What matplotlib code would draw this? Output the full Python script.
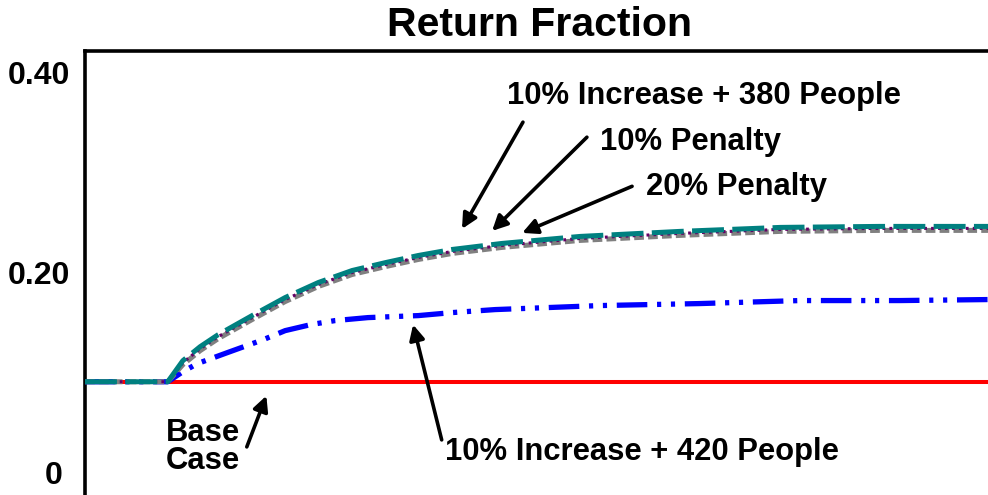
import matplotlib
matplotlib.use("Agg")
import matplotlib.pyplot as plt
from matplotlib.transforms import ScaledTranslation

plt.rcParams['font.family'] = ['Liberation Sans', 'DejaVu Sans']
plt.rcParams['lines.scale_dashes'] = False

# Data
times = [0, 11, 13.0, 15.3, 17.7, 22.2, 26.6, 31, 35.5, 40, 44.3, 48.8, 55.4, 65.8, 79, 92.4, 105.6, 120]
inc380 = [0.091, 0.091, 0.112, 0.126, 0.138, 0.157, 0.175, 0.190, 0.202, 0.210, 0.217, 0.223, 0.229, 0.236, 0.241, 0.245, 0.246, 0.246]
pen10 = [0.091, 0.091, 0.110, 0.124, 0.136, 0.155, 0.173, 0.188, 0.200, 0.208, 0.215, 0.221, 0.227, 0.234, 0.239, 0.243, 0.244, 0.244]
pen20 = [0.091, 0.091, 0.108, 0.122, 0.134, 0.153, 0.171, 0.186, 0.198, 0.206, 0.213, 0.219, 0.225, 0.232, 0.237, 0.241, 0.242, 0.242]

blue_t = [0, 11.0, 13.0, 14.9, 18.9, 23.7, 26.6, 30.0, 33.2, 37.6, 44.3, 48.8, 54.5, 68.4, 81.7, 95.0, 108.3, 120]
inc420 = [0.091, 0.091, 0.101, 0.109, 0.120, 0.133, 0.142, 0.148, 0.152, 0.155, 0.157, 0.160, 0.163, 0.167, 0.169, 0.172, 0.172, 0.173]

base_t = [0, 120]
base = [0.091, 0.091]

yticks = [0, 0.2, 0.4]
yticklabels = ["0", "0.20", "0.40"]

fig = plt.figure(figsize=(9.88, 4.95), dpi=100)
ax = fig.add_axes([85/988, 0, 1 - 85/988, 1 - 51/495])

ax.plot(base_t, base, color='#FF0000', lw=2.9, solid_capstyle='butt', zorder=2)
ax.plot(blue_t, inc420, color='#0000FF', lw=3.8, dashes=(22, 7, 3, 7, 3, 7), zorder=3)
ax.plot(times, pen20, color='#808080', lw=3.6, dashes=(7, 3), zorder=4)
ax.plot(times, pen10, color='#660066', lw=2.2, dashes=(2, 3), zorder=5)
ax.plot(times, inc380, color='#008080', lw=3.6, dashes=(23, 6), zorder=6)

ax.set_xlim(0, 120)
ax.set_ylim(-0.022, 0.421)
ax.set_yticks(yticks)
ax.set_yticklabels(yticklabels, fontsize=23, fontweight='bold')
ax.set_xticks([])
ax.tick_params(axis='y', length=0, pad=11)
zero_lbl = ax.get_yticklabels()[0]
zero_lbl.set_transform(zero_lbl.get_transform() + ScaledTranslation(-7/100, 0, fig.dpi_scale_trans))
for s in ['right', 'bottom']:
    ax.spines[s].set_visible(False)
for s in ['left', 'top']:
    ax.spines[s].set_linewidth(2.6)

fig.text(539/988, 1 - 25/495, "Return Fraction", ha='center', va='center',
         fontsize=29.5, fontweight='bold')

arrowprops = dict(arrowstyle='-|>,head_length=0.9,head_width=0.45', color='black', lw=2.6,
                  shrinkA=0, shrinkB=0)
txt = dict(fontsize=22.3, fontweight='bold', ha='center', va='center')

ax.annotate("", xy=(50.1, 0.2435), xytext=(58.2, 0.350), arrowprops=arrowprops)
ax.annotate("", xy=(54.1, 0.2415), xytext=(66.7, 0.335), arrowprops=arrowprops)
ax.annotate("", xy=(58.1, 0.2395), xytext=(72.7, 0.286), arrowprops=arrowprops)
ax.annotate("", xy=(24.1, 0.077), xytext=(21.5, 0.026), arrowprops=arrowprops)
ax.annotate("", xy=(43.6, 0.148), xytext=(47.4, 0.033), arrowprops=arrowprops)

ax.text(82.3, 0.376, "10% Increase + 380 People", **txt)
ax.text(80.5, 0.330, "10% Penalty", **txt)
ax.text(86.6, 0.285, "20% Penalty", **txt)
ax.text(15.7, 0.026, "Base\nCase", linespacing=0.92, **txt)
ax.text(74.0, 0.021, "10% Increase + 420 People", **txt)

fig.savefig("out.png", dpi=100)
